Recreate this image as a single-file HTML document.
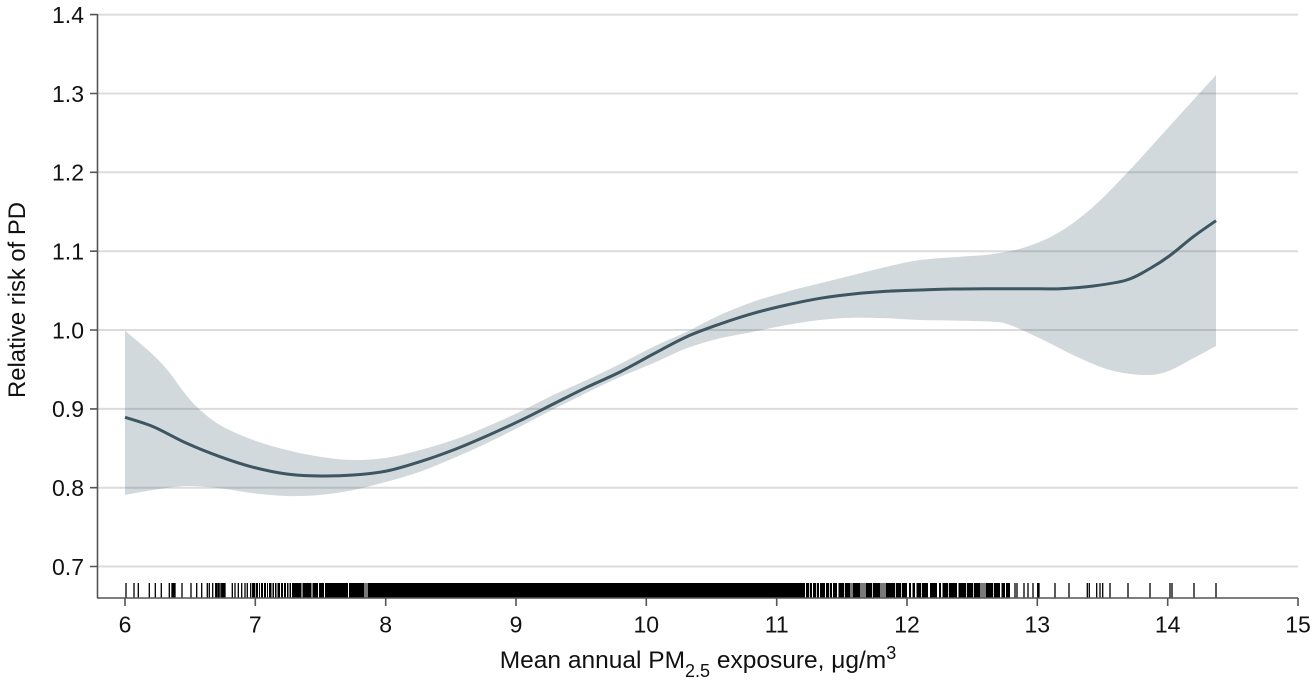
<!DOCTYPE html>
<html>
<head>
<meta charset="utf-8">
<style>
  html,body{margin:0;padding:0;background:#fff;}
  svg{display:block;}
  text{font-family:"Liberation Sans",Arial,sans-serif;fill:#111;}
</style>
</head>
<body>
<svg id="chart" width="1315" height="688" viewBox="0 0 1315 688" xmlns="http://www.w3.org/2000/svg">
  <g stroke="#dcdcdc" stroke-width="2">
    <line x1="98" y1="566.5" x2="1298" y2="566.5"/>
    <line x1="98" y1="487.7" x2="1298" y2="487.7"/>
    <line x1="98" y1="408.9" x2="1298" y2="408.9"/>
    <line x1="98" y1="330" x2="1298" y2="330"/>
    <line x1="98" y1="251.2" x2="1298" y2="251.2"/>
    <line x1="98" y1="172.3" x2="1298" y2="172.3"/>
    <line x1="98" y1="93.5" x2="1298" y2="93.5"/>
    <line x1="98" y1="14.6" x2="1298" y2="14.6"/>
  </g>

  <polygon id="band" fill="rgb(62,90,105)" fill-opacity="0.23" points="125,330.7 153.3,355 170,373.3 183,391 196.7,406.7 220,425 253.3,440 286.7,450 320,456.7 353.3,460 386.7,457.7 420,450 453.3,440 486.7,426.7 520,411.7 553.3,395 586.7,380 620,364 653.3,346.7 686.7,331.7 720,315 753.3,301.7 786.7,291.7 820,283.3 853.3,275 886.7,266.7 920,260 960,256.7 993.3,254 1026.7,246.7 1060,231.7 1093.3,206.7 1126.7,173.3 1160,136.7 1193.3,100 1216,75 1216,346 1193.3,358.3 1166.7,371.7 1143.3,375 1110,370 1076.7,356.7 1043.3,340 1010,325 993.3,321.7 960,320.7 920,320 886.7,318.3 853.3,317.7 820,320 786.7,325 753.3,331.7 720,338.3 686.7,348.3 653.3,363.3 620,377 586.7,392.7 553.3,409.3 520,426.7 486.7,443.3 453.3,458.3 420,471.7 386.7,481.7 353.3,490 320,495 286.7,496 253.3,493.3 220,488.3 186.7,486 153.3,490 125,495"/>

  <polyline id="curve" fill="none" stroke="#3e5562" stroke-width="3" stroke-linejoin="round" points="125,417.3 153.3,426.7 186.7,443.3 220,456.7 253.3,467.3 286.7,474 320,476 353.3,475 386.7,471 420,461.7 453.3,450 486.7,436 520,420.7 553.3,404 586.7,387.3 620,372 653.3,354 686.7,336.7 720,324 753.3,313.3 786.7,305 820,298.3 853.3,294 886.7,291.3 920,290 953.3,289 993.3,288.7 1026.7,288.7 1060,288.7 1093.3,286 1126.7,280 1150,268.5 1170,255.5 1193.3,236.7 1216,220.7"/>

  <g>
    <rect x="256" y="583" width="754" height="14.5" fill="#000"/>
    <g fill="#fff">
      <rect x="258" y="583" width="1" height="14.5"/>
      <rect x="260" y="583" width="1" height="14.5"/>
      <rect x="263" y="583" width="1" height="14.5"/>
      <rect x="266" y="583" width="1" height="14.5"/>
      <rect x="268" y="583" width="1" height="14.5"/>
      <rect x="271.5" y="583" width="1" height="14.5"/>
      <rect x="274" y="583" width="1" height="14.5"/>
      <rect x="276.5" y="583" width="1" height="14.5"/>
      <rect x="280" y="583" width="1" height="14.5"/>
      <rect x="283" y="583" width="1" height="14.5"/>
      <rect x="286" y="583" width="1" height="14.5"/>
      <rect x="288.5" y="583" width="1" height="14.5"/>
      <rect x="291" y="583" width="1" height="14.5"/>
      <rect x="301.5" y="583" width="1" height="14.5"/>
      <rect x="311.5" y="583" width="1" height="14.5"/>
      <rect x="318" y="583" width="1" height="14.5"/>
      <rect x="324" y="583" width="1" height="14.5"/>
      <rect x="348" y="583" width="1" height="14.5"/>
      <rect x="805" y="583" width="1" height="14.5"/>
      <rect x="809" y="583" width="0.8" height="14.5"/>
      <rect x="812" y="583" width="1" height="14.5"/>
      <rect x="816" y="583" width="0.8" height="14.5"/>
      <rect x="819" y="583" width="1" height="14.5"/>
      <rect x="825" y="583" width="1" height="14.5"/>
      <rect x="829" y="583" width="0.8" height="14.5"/>
      <rect x="832" y="583" width="1" height="14.5"/>
      <rect x="837" y="583" width="1.5" height="14.5"/>
      <rect x="844" y="583" width="0.8" height="14.5"/>
      <rect x="872" y="583" width="0.8" height="14.5"/>
      <rect x="895" y="583" width="0.8" height="14.5"/>
      <rect x="901" y="583" width="0.8" height="14.5"/>
      <rect x="907" y="583" width="2" height="14.5"/>
      <rect x="911" y="583" width="1.5" height="14.5"/>
      <rect x="915" y="583" width="1.5" height="14.5"/>
      <rect x="921" y="583" width="0.8" height="14.5"/>
      <rect x="928" y="583" width="2" height="14.5"/>
      <rect x="937" y="583" width="2" height="14.5"/>
      <rect x="941" y="583" width="1.5" height="14.5"/>
      <rect x="948" y="583" width="0.8" height="14.5"/>
      <rect x="957" y="583" width="1.5" height="14.5"/>
      <rect x="966" y="583" width="0.8" height="14.5"/>
      <rect x="973" y="583" width="0.8" height="14.5"/>
      <rect x="993" y="583" width="0.8" height="14.5"/>
      <rect x="1000" y="583" width="1.5" height="14.5"/>
      <rect x="1005" y="583" width="1" height="14.5"/>
    </g>
    <g fill="#7a7a7a">
      <rect x="364" y="583" width="4" height="14.5"/>
      <rect x="850" y="583" width="3" height="14.5"/>
      <rect x="860" y="583" width="6" height="14.5"/>
      <rect x="880" y="583" width="6" height="14.5"/>
      <rect x="980" y="583" width="6" height="14.5"/>
    </g>
    <path stroke="#000" stroke-width="1.3" fill="none" d="M126 583V597.5 M134 583V597.5 M138.3 583V597.5 M149.3 583V597.5 M155.3 583V597.5 M161.3 583V597.5 M169.3 583V597.5 M172 583V597.5 M173 583V597.5 M174 583V597.5 M175 583V597.5 M182 583V597.5 M191 583V597.5 M196.7 583V597.5 M201.7 583V597.5 M207.3 583V597.5 M209.3 583V597.5 M212.7 583V597.5 M215.7 583V597.5 M217 583V597.5 M218.5 583V597.5 M220 583V597.5 M221.7 583V597.5 M223 583V597.5 M224 583V597.5 M225 583V597.5 M232.3 583V597.5 M235 583V597.5 M238.3 583V597.5 M241.7 583V597.5 M245 583V597.5 M247.3 583V597.5 M250.7 583V597.5 M252.7 583V597.5 M253.7 583V597.5 M254.7 583V597.5 M1015 583V597.5 M1017 583V597.5 M1024 583V597.5 M1028 583V597.5 M1033 583V597.5 M1037.7 583V597.5 M1039 583V597.5 M1055 583V597.5 M1069 583V597.5 M1087.3 583V597.5 M1089.3 583V597.5 M1096.7 583V597.5 M1100 583V597.5 M1102.7 583V597.5 M1110 583V597.5 M1128 583V597.5 M1150 583V597.5 M1170 583V597.5 M1172 583V597.5 M1194 583V597.5 M1216 583V597.5"/>
  </g>

  <g stroke="#555" stroke-width="1.6" fill="none">
    <line x1="97.5" y1="14" x2="97.5" y2="598"/>
    <line x1="97" y1="598" x2="1298" y2="598"/>
    <path d="M90 566.5H97.5 M90 487.7H97.5 M90 408.9H97.5 M90 330H97.5 M90 251.2H97.5 M90 172.3H97.5 M90 93.5H97.5 M90 14.6H97.5"/>
    <path d="M125 598V606 M255.3 598V606 M385.7 598V606 M516 598V606 M646.3 598V606 M776.7 598V606 M907 598V606 M1037.3 598V606 M1167.7 598V606 M1298 598V606"/>
  </g>

  <g font-size="23" text-anchor="end">
    <text x="84" y="574.8">0.7</text>
    <text x="84" y="496">0.8</text>
    <text x="84" y="417.2">0.9</text>
    <text x="84" y="338.3">1.0</text>
    <text x="84" y="259.5">1.1</text>
    <text x="84" y="180.6">1.2</text>
    <text x="84" y="101.8">1.3</text>
    <text x="84" y="22.9">1.4</text>
  </g>

  <g font-size="23" text-anchor="middle">
    <text x="125" y="632.5">6</text>
    <text x="255.3" y="632.5">7</text>
    <text x="385.7" y="632.5">8</text>
    <text x="516" y="632.5">9</text>
    <text x="646.3" y="632.5">10</text>
    <text x="776.7" y="632.5">11</text>
    <text x="907" y="632.5">12</text>
    <text x="1037.3" y="632.5">13</text>
    <text x="1167.7" y="632.5">14</text>
    <text x="1298" y="632.5">15</text>
  </g>

  <text x="698" y="668" font-size="24.5" text-anchor="middle">Mean annual PM<tspan font-size="18" dy="9">2.5</tspan><tspan dy="-9"> exposure, μg/m</tspan><tspan font-size="18" dy="-9">3</tspan></text>
  <text transform="translate(25,300) rotate(-90)" font-size="24" text-anchor="middle" textLength="196" lengthAdjust="spacingAndGlyphs">Relative risk of PD</text>
</svg>
<script>
(function(){
  var NS = "http://www.w3.org/2000/svg";
  var UP = [[125,330.7],[153.3,355],[170,373.3],[183,391],[196.7,406.7],[220,425],[253.3,440],[286.7,450],[320,456.7],[353.3,460],[386.7,457.7],[420,450],[453.3,440],[486.7,426.7],[520,411.7],[553.3,395],[586.7,380],[620,364],[653.3,346.7],[686.7,331.7],[720,315],[753.3,301.7],[786.7,291.7],[820,283.3],[853.3,275],[886.7,266.7],[920,260],[960,256.7],[993.3,254],[1026.7,246.7],[1060,231.7],[1093.3,206.7],[1126.7,173.3],[1160,136.7],[1193.3,100],[1216,75]];
  var LO = [[1216,346],[1193.3,358.3],[1166.7,371.7],[1143.3,375],[1110,370],[1076.7,356.7],[1043.3,340],[1010,325],[993.3,321.7],[960,320.7],[920,320],[886.7,318.3],[853.3,317.7],[820,320],[786.7,325],[753.3,331.7],[720,338.3],[686.7,348.3],[653.3,363.3],[620,377],[586.7,392.7],[553.3,409.3],[520,426.7],[486.7,443.3],[453.3,458.3],[420,471.7],[386.7,481.7],[353.3,490],[320,495],[286.7,496],[253.3,493.3],[220,488.3],[186.7,486],[153.3,490],[125,495]];
  function f(n){ return n.toFixed(2); }
  function cr(pts, start){
    var d = (start ? "M" : "L") + f(pts[0][0]) + " " + f(pts[0][1]);
    for (var i = 0; i < pts.length - 1; i++){
      var p0 = pts[i > 0 ? i - 1 : i], p1 = pts[i], p2 = pts[i + 1], p3 = pts[i + 2 < pts.length ? i + 2 : i + 1];
      var c1x = p1[0] + (p2[0] - p0[0]) / 6, c1y = p1[1] + (p2[1] - p0[1]) / 6;
      var c2x = p2[0] - (p3[0] - p1[0]) / 6, c2y = p2[1] - (p3[1] - p1[1]) / 6;
      d += " C" + f(c1x) + " " + f(c1y) + " " + f(c2x) + " " + f(c2y) + " " + f(p2[0]) + " " + f(p2[1]);
    }
    return d;
  }
  try {
    var curve = document.getElementById("curve");
    var nums = curve.getAttribute("points").trim().split(/[\s,]+/).map(Number);
    var cp = [];
    for (var i = 0; i + 1 < nums.length; i += 2) cp.push([nums[i], nums[i + 1]]);
    var path = document.createElementNS(NS, "path");
    path.setAttribute("d", cr(cp, true));
    path.setAttribute("fill", "none");
    path.setAttribute("stroke", "#3e5562");
    path.setAttribute("stroke-width", "3");
    path.setAttribute("stroke-linejoin", "round");
    curve.parentNode.replaceChild(path, curve);

    var band = document.getElementById("band");
    var bpath = document.createElementNS(NS, "path");
    bpath.setAttribute("d", cr(UP, true) + " " + cr(LO, false) + " Z");
    bpath.setAttribute("fill", "rgb(62,90,105)");
    bpath.setAttribute("fill-opacity", "0.23");
    band.parentNode.replaceChild(bpath, band);
  } catch (e) {}
})();
</script>
</body>
</html>
